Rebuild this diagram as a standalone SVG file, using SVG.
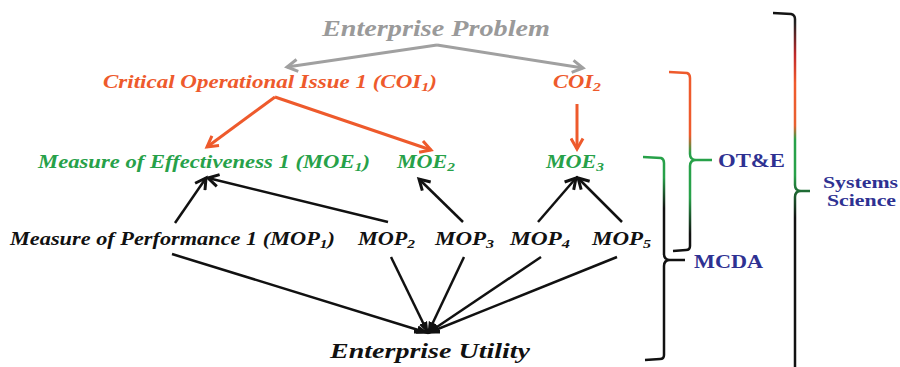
<svg xmlns="http://www.w3.org/2000/svg" width="900" height="367" viewBox="0 0 900 367">
<style>
.t{font-family:"Liberation Serif","DejaVu Serif","Times New Roman",serif;font-weight:bold;font-style:italic}
.b{font-family:"Liberation Serif","DejaVu Serif","Times New Roman",serif;font-weight:bold;fill:#2E3192}
.gray{fill:#9A9A9A}
.org{fill:#EE5A2C}
.grn{fill:#27A149}
.blk{fill:#111}
.sub{font-size:70%}
.eg{stroke:#A0A0A0;stroke-width:3;fill:none}
.eo{stroke:#EE5A2C;stroke-width:3;fill:none}
.ek{stroke:#111;stroke-width:2.5;fill:none}
</style>
<defs>
<marker id="ag" viewBox="0 0 10 10" refX="8" refY="5" markerWidth="5" markerHeight="5" orient="auto" markerUnits="strokeWidth"><path d="M1,1 L8,5 L1,9" fill="none" stroke="#A0A0A0" stroke-width="2"/></marker>
<marker id="ao" viewBox="0 0 10 10" refX="8" refY="5" markerWidth="5" markerHeight="5" orient="auto" markerUnits="strokeWidth"><path d="M1,1 L8,5 L1,9" fill="none" stroke="#EE5A2C" stroke-width="2"/></marker>
<marker id="ak" viewBox="0 0 10 10" refX="8" refY="5" markerWidth="6" markerHeight="6" orient="auto" markerUnits="strokeWidth"><path d="M1,1 L8,5 L1,9" fill="none" stroke="#111" stroke-width="2"/></marker>
<marker id="akf" viewBox="0 0 10 10" refX="9" refY="5" markerWidth="5" markerHeight="5" orient="auto" markerUnits="strokeWidth"><path d="M0,1.5 L10,5 L0,8.5 z" fill="#111"/></marker>
<linearGradient id="gOTE" gradientUnits="userSpaceOnUse" x1="0" y1="72" x2="0" y2="252">
<stop offset="0" stop-color="#EE5A2C"/><stop offset="0.35" stop-color="#EE5A2C"/><stop offset="0.45" stop-color="#27A149"/><stop offset="0.7" stop-color="#27A149"/><stop offset="0.9" stop-color="#111"/><stop offset="1" stop-color="#111"/>
</linearGradient>
<linearGradient id="gMCDA" gradientUnits="userSpaceOnUse" x1="0" y1="157" x2="0" y2="362">
<stop offset="0" stop-color="#27A149"/><stop offset="0.1" stop-color="#27A149"/><stop offset="0.25" stop-color="#111"/><stop offset="1" stop-color="#111"/>
</linearGradient>
<linearGradient id="gSS" gradientUnits="userSpaceOnUse" x1="0" y1="12" x2="0" y2="367">
<stop offset="0" stop-color="#111"/><stop offset="0.03" stop-color="#222"/><stop offset="0.12" stop-color="#C0282A"/><stop offset="0.2" stop-color="#F05A2C"/><stop offset="0.32" stop-color="#E86030"/><stop offset="0.36" stop-color="#27A149"/><stop offset="0.46" stop-color="#27A149"/><stop offset="0.58" stop-color="#111"/><stop offset="1" stop-color="#111"/>
</linearGradient>
</defs>

<g id="connectors">
<path class="eg" d="M437,45 L287,67" marker-end="url(#ag)"/>
<path class="eg" d="M437,45 L583,68" marker-end="url(#ag)"/>
<path class="eo" d="M275,97 L207,147" marker-end="url(#ao)"/>
<path class="eo" d="M275,97 L431,150" marker-end="url(#ao)"/>
<path class="eo" d="M577,104 L577,149" marker-end="url(#ao)"/>
<path class="ek" d="M175,223 L206,178" marker-end="url(#ak)"/>
<path class="ek" d="M388,222 L208,178" marker-end="url(#ak)"/>
<path class="ek" d="M463,222 L419,179" marker-end="url(#ak)"/>
<path class="ek" d="M538,222 L576,178" marker-end="url(#ak)"/>
<path class="ek" d="M622,222 L578,178" marker-end="url(#ak)"/>
<path class="ek" d="M172,254 L428,333" marker-end="url(#akf)"/>
<path class="ek" d="M391,257 L428,333" marker-end="url(#akf)"/>
<path class="ek" d="M464,257 L428,333" marker-end="url(#akf)"/>
<path class="ek" d="M541,257 L428,333" marker-end="url(#akf)"/>
<path class="ek" d="M617,257 L428,333" marker-end="url(#akf)"/>
<rect x="414" y="330" width="26" height="3.5" fill="#111"/>
</g>

<g id="enterprise-problem"><text class="t gray" x="322" y="36" font-size="24" textLength="228" lengthAdjust="spacingAndGlyphs">Enterprise Problem</text></g>
<g id="coi1"><text class="t org" x="103" y="88" font-size="19" textLength="334" lengthAdjust="spacingAndGlyphs">Critical Operational Issue 1 (COI<tspan class="sub" baseline-shift="-20%">1</tspan>)</text></g>
<g id="coi2"><text class="t org" x="553" y="88" font-size="19" textLength="48" lengthAdjust="spacingAndGlyphs">COI<tspan class="sub" baseline-shift="-20%">2</tspan></text></g>
<g id="moe1"><text class="t grn" x="38" y="168" font-size="19" textLength="332" lengthAdjust="spacingAndGlyphs">Measure of Effectiveness 1 (MOE<tspan class="sub" baseline-shift="-20%">1</tspan>)</text></g>
<g id="moe2"><text class="t grn" x="397" y="168" font-size="19" textLength="58" lengthAdjust="spacingAndGlyphs">MOE<tspan class="sub" baseline-shift="-20%">2</tspan></text></g>
<g id="moe3"><text class="t grn" x="546" y="168" font-size="19" textLength="58" lengthAdjust="spacingAndGlyphs">MOE<tspan class="sub" baseline-shift="-20%">3</tspan></text></g>
<g id="mop1"><text class="t blk" x="10" y="245" font-size="19" textLength="325" lengthAdjust="spacingAndGlyphs">Measure of Performance 1 (MOP<tspan class="sub" baseline-shift="-20%">1</tspan>)</text></g>
<g id="mop2"><text class="t blk" x="358" y="245" font-size="19" textLength="57" lengthAdjust="spacingAndGlyphs">MOP<tspan class="sub" baseline-shift="-20%">2</tspan></text></g>
<g id="mop3"><text class="t blk" x="435" y="245" font-size="19" textLength="59" lengthAdjust="spacingAndGlyphs">MOP<tspan class="sub" baseline-shift="-20%">3</tspan></text></g>
<g id="mop4"><text class="t blk" x="510" y="245" font-size="19" textLength="60" lengthAdjust="spacingAndGlyphs">MOP<tspan class="sub" baseline-shift="-20%">4</tspan></text></g>
<g id="mop5"><text class="t blk" x="592" y="245" font-size="19" textLength="59" lengthAdjust="spacingAndGlyphs">MOP<tspan class="sub" baseline-shift="-20%">5</tspan></text></g>
<g id="enterprise-utility"><text class="t blk" x="330" y="358" font-size="22" textLength="200" lengthAdjust="spacingAndGlyphs">Enterprise Utility</text></g>

<g id="bracket-ote">
<path d="M669,72 L687,73 Q690,74 690,78 L690,154 Q690,160 696,160 L712,160 M696,160 Q690,160 690,166 L690,246 Q690,250 686,250 L673,251" fill="none" stroke="url(#gOTE)" stroke-width="2.5"/>
<text class="b" x="718" y="167" font-size="18" textLength="67" lengthAdjust="spacingAndGlyphs">OT&amp;E</text>
</g>
<g id="bracket-mcda">
<path d="M643,157 L661,158 Q664,159 664,163 L664,254 Q664,260 670,260 L685,260 M670,260 Q664,260 664,266 L664,355 Q664,359 660,359 L645,360" fill="none" stroke="url(#gMCDA)" stroke-width="2.5"/>
<text class="b" x="694" y="268" font-size="18" textLength="69" lengthAdjust="spacingAndGlyphs">MCDA</text>
</g>
<g id="bracket-systems-science">
<path d="M773,13 L791,14 Q795,15 795,19 L795,185 Q795,191 801,191 L810,191 M801,191 Q795,191 795,197 L795,367" fill="none" stroke="url(#gSS)" stroke-width="2.5"/>
<text class="b" x="823" y="188" font-size="17" textLength="75" lengthAdjust="spacingAndGlyphs">Systems</text>
<text class="b" x="827" y="206" font-size="17" textLength="69" lengthAdjust="spacingAndGlyphs">Science</text>
</g>
</svg>
